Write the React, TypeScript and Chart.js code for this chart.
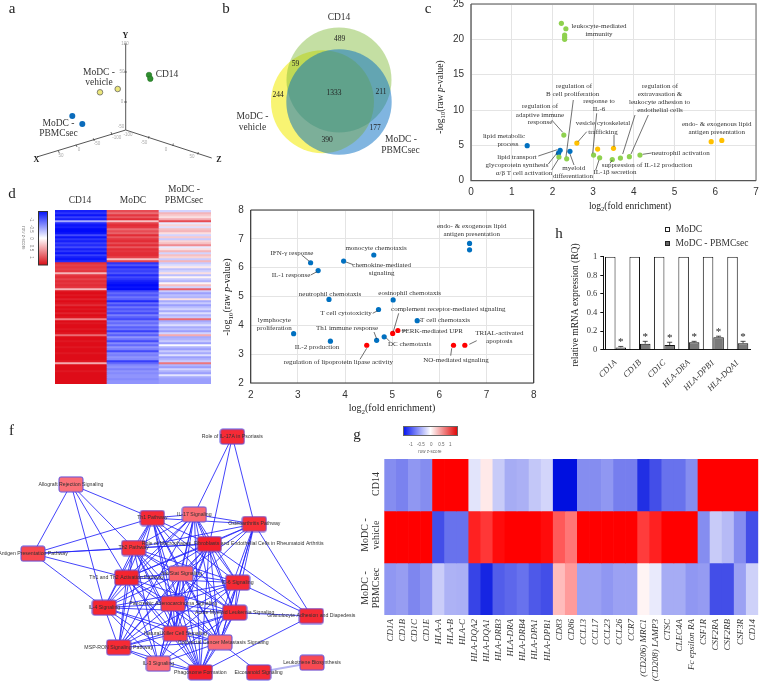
import React, { useEffect, useRef } from "react";
import { Chart, registerables } from "chart.js";

Chart.register(...registerables);

const SERIF = '"Liberation Serif", serif';
const SANS = '"Liberation Sans", sans-serif';

/* ---------- panel a: PCA ---------- */
const pcaVehicle = [{ x: 100, y: 92.3 }, { x: 117.7, y: 89 }];
const pcaSec = [{ x: 72.3, y: 116 }, { x: 82.3, y: 124 }];
const pcaCd14 = [{ x: 149, y: 75 }, { x: 150.3, y: 78.7 }];
const pcaAxisY = [{ x: 125.7, y: 130 }, { x: 125.7, y: 44 }];
const pcaAxisX = [{ x: 125.7, y: 130 }, { x: 36.7, y: 157 }];
const pcaAxisZ = [{ x: 125.7, y: 130 }, { x: 211.7, y: 158 }];

/* ---------- panel b: Venn ---------- */
const vennCircles = [
  { name: "MoDC - vehicle", x: 322.5, y: 101.7, r: 51.5, color: "rgba(245,240,60,0.72)", order: 3 },
  { name: "CD14", x: 339, y: 80, r: 52.5, color: "rgba(125,185,50,0.45)", order: 2 },
  { name: "MoDC - PBMCsec", x: 339, y: 102, r: 52.7, color: "rgba(1,107,193,0.5)", order: 1 },
];

/* ---------- panel c ---------- */
const cGreen = [
  [2.22, 22.26], [2.33, 21.5], [2.3, 20.6], [2.3, 20.3], [2.3, 20.0], [2.28, 6.46], [2.16, 3.35],
  [2.35, 3.1], [3.01, 3.63], [3.16, 3.25], [3.47, 3.0], [3.67, 3.2], [3.89, 3.4], [4.15, 3.63],
];
const cOrange = [[2.6, 5.33], [3.11, 4.48], [3.5, 4.58], [5.9, 5.52], [6.16, 5.7]];
const cBlue = [[1.38, 4.95], [2.19, 4.3], [2.15, 3.9], [2.43, 4.15]];

/* ---------- panel e ---------- */
const eBlue = [
  [6.64, 6.84], [6.64, 6.62], [4.61, 6.44], [3.97, 6.23], [3.27, 6.17], [3.43, 5.9], [3.66, 4.9],
  [5.02, 4.88], [4.71, 4.55], [5.53, 4.16], [2.91, 3.71], [3.69, 3.45], [4.67, 3.48], [4.83, 3.6],
];
const eRed = [[5.01, 3.72], [5.12, 3.82], [4.46, 3.31], [6.3, 3.31], [6.54, 3.31]];

/* ---------- panel h ---------- */
const hGenes = ["CD1A", "CD1B", "CD1C", "HLA-DRA", "HLA-DPB1", "HLA-DQA1"];
const hMoDC = [1, 1, 1, 1, 1, 1];
const hSec = [0.025, 0.065, 0.05, 0.08, 0.135, 0.07];
const hErr = [0.01, 0.025, 0.03, 0.01, 0.01, 0.02];

/* ---------- panel d: heat map (row z-scores) ---------- */
const dCd14 = [
  -1.05, -0.95, -1.1, -0.9, -1.05, -0.4, -1.0, -1.1, -1.05, -1.15, -1.15, -1.1, -0.85, -1.1, -0.95, -1.05, -0.9, -1.0,
  -0.85, -1.05, -0.95, -1.1, -0.9, -1.05, -1.1, -1.0,
  0.98, 0.9, 0.95, 0.9, 0.95, 0.35, 0.95, 1.0, 0.9, 1.0, 0.95, 1.0, 0.95, 0.35, 1.1, 1.15, 1.1, 1.15, 1.05, 1.15, 1.1,
  1.0, 1.15, 1.1, 1.15, 1.05, 1.15, 1.1, 0.6, 1.15, 1.1, 1.15, 1.15, 1.1, 1.15, 1.1, 0.7, 1.15, 1.15, 1.1, 1.15, 1.15,
  1.1, 1.15, 1.15, 1.1, 1.15, 1.15, 1.15, 1.1, 0.4, 1.15, 1.15, 1.15, 1.1, 1.15, 1.15, 1.15, 1.15, 1.15, 1.15,
];
const dMoDC = [
  0.85, 0.7, 0.95, 0.8, 1.0, 0.3, 0.9, 1.0, 0.95, 0.7, 0.85, 0.75, 1.0, 0.8, 0.95, 1.0, 0.85, 1.0, 0.8, 1.0, 0.95,
  1.0, 1.0, 0.9, 0.3, 0.9,
  -0.95, -0.8, -1.0, -0.85, -0.9, -0.8, -1.0, -0.85, -0.95, -1.05, -1.1, -1.15, -1.1, -1.15, -0.85, -0.7, -0.8, -0.65,
  -0.75, -1.0, -0.7, -0.85, -0.65, -0.8, -0.7, -0.85, -0.6, -0.75, -0.85, -0.6, -0.7, -0.55, -0.75, -0.65, -0.9, -0.6,
  -0.75, -0.5, -0.65, -0.85, -0.55, -0.7, -0.5, -0.6, -0.85, -0.55, -0.6, -0.5, -0.55, -0.9, -0.7, -0.55, -0.5, -0.6,
  -0.5, -0.55, -0.5, -0.5, -0.55, -0.5, -0.5,
];
const dSec = [
  -0.2, 0.35, 0.25, 0.15, 0.4, 0.85, -0.1, 0.2, -0.15, 0.3, 0.35, 0.15, -0.2, 0.25, -0.25, 0.2, 0.3, 0.55, -0.1, 0.15,
  0.35, -0.2, 0.3, 0.2, -0.25, 0.35,
  -0.25, -0.15, 0.1, -0.3, -0.2, 0.15, -0.3, 0.05, -0.25, -0.35, 0.05, 0.3, -0.2, 0.75, -0.25, -0.45, -0.3, -0.35, 0.15,
  -0.4, -0.25, -0.45, -0.3, -0.2, -0.4, -0.15, -0.35, -0.25, 0.7, -0.4, -0.3, -0.15, -0.4, -0.3, -0.45, -0.2, 0.4, -0.4,
  -0.35, -0.25, -0.45, -0.02, -0.35, -0.45, -0.25, -0.4, -0.15, -0.45, -0.35, -0.25, 0.65, -0.35, -0.45, -0.2, -0.35,
  -0.45, -0.12, -0.4, -0.45, -0.45, -0.45,
];
const dColumns = ["CD14", "MoDC", "MoDC - PBMCsec"];

/* ---------- panel g: heat map ---------- */
const gGenes = [
  "CD1A", "CD1B", "CD1C", "CD1E", "HLA-A", "HLA-B", "HLA-C", "HLA-DQA2", "HLA-DQA1", "HLA-DRB3", "HLA-DRA", "HLA-DRB4",
  "HLA-DPA1", "HLA-DPB1", "CD83", "CD86", "CCL13", "CCL17", "CCL23", "CCL26", "CCR7", "(CD206) MRC1", "(CD208) LAMP3",
  "CTSC", "CLEC4A", "Fc epsilon RA", "CSF1R", "CSF2RA", "CSF2RB", "CSF3R", "CD14",
];
const gCd14 = [
  -0.55, -0.6, -0.5, -0.55, 1.15, 1.15, 1.15, -0.13, 0.1, -0.25, -0.4, -0.38, -0.27, -0.2, -1.15, -1.15, -0.55, -0.55,
  -0.5, -0.62, -0.62, -1.0, -0.85, -0.68, -0.68, -0.55, 1.15, 1.15, 1.15, 1.15, 1.15,
];
const gVehicle = [
  1.15, 1.15, 1.15, 1.15, -0.85, -0.68, -0.68, 1.0, 0.9, 1.1, 1.15, 1.15, 1.15, 1.1, 0.75, 0.62, 1.15, 1.15, 1.15, 1.15,
  1.15, 0.88, 1.0, 1.15, 1.15, 1.15, -0.55, -0.25, -0.33, -0.55, -0.85,
];
const gSec = [
  -0.5, -0.47, -0.58, -0.52, -0.24, -0.37, -0.38, -0.9, -1.05, -0.78, -0.73, -0.68, -0.8, -0.85, 0.3, 0.45, -0.45, -0.45,
  -0.5, -0.45, -0.45, 0.05, -0.1, -0.4, -0.4, -0.5, -0.48, -0.85, -0.85, -0.45, -0.22,
];

/* ---------- panel f: network ---------- */
const netNames = [
  "Role of IL-17A in Psoriasis", "Allograft Rejection Signaling", "Th1 Pathway", "IL-17 Signaling", "Osteoarthritis Pathway",
  "Antigen Presentation Pathway", "Th2 Pathway", "Role of Macrophages, Fibroblasts and Endothelial Cells in Rheumatoid Arthritis",
  "Th1 and Th2 Activation Pathway", "Jak/Stat Signaling", "IL-6 Signaling", "IL-4 Signaling", "Pancreatic Adenocarcinoma Signaling",
  "Acute Myeloid Leukemia Signaling", "Granulocyte Adhesion and Diapedesis", "Natural Killer Cell Signaling",
  "Colorectal Cancer Metastasis Signaling", "MSP-RON Signaling Pathway", "IL-3 Signaling", "Phagosome Formation",
  "Eicosanoid Signaling", "Leukotriene Biosynthesis",
];
const netX = [697, 213, 457, 583, 763, 99, 401, 628, 380, 543, 713, 313, 519, 704, 934, 526, 660, 356, 475, 601, 776, 936];
const netY = [65, 208, 309, 298, 327, 416, 399, 387, 488, 476, 503, 578, 566, 593, 603, 656, 682, 697, 746, 772, 772, 743];
const netFill = [
  "#f62a36", "#fb7077", "#f62a36", "#fb6a72", "#f83038", "#f8484e", "#f8323c", "#f4202c", "#f5242e", "#fa6068", "#f62a34",
  "#f6262f", "#f83a44", "#f62a34", "#f52a34", "#f83a44", "#fa6a72", "#f62a34", "#fb6a72", "#f4202c", "#f62a34", "#f84a52",
];
const netEdges = [
  [0, 3], [0, 7], [0, 4], [1, 5], [1, 11], [1, 8], [1, 6], [1, 2], [5, 2], [5, 6], [5, 8], [5, 11], [5, 7],
  [2, 3], [2, 4], [2, 6], [2, 7], [2, 8], [2, 9], [2, 10], [2, 11], [2, 12], [2, 13], [2, 15], [2, 16], [2, 17], [2, 19],
  [3, 4], [3, 6], [3, 7], [3, 8], [3, 9], [3, 10], [3, 11], [3, 12], [3, 13], [3, 15], [3, 16], [3, 17], [3, 19],
  [4, 6], [4, 7], [4, 8], [4, 9], [4, 10], [4, 12], [4, 13], [4, 14], [4, 16], [4, 19],
  [6, 7], [6, 8], [6, 9], [6, 10], [6, 11], [6, 12], [6, 13], [6, 15], [6, 16], [6, 17], [6, 18], [6, 19],
  [7, 8], [7, 9], [7, 10], [7, 11], [7, 12], [7, 13], [7, 14], [7, 15], [7, 16], [7, 17], [7, 18], [7, 19],
  [8, 9], [8, 10], [8, 11], [8, 12], [8, 13], [8, 15], [8, 16], [8, 17], [8, 18], [8, 19],
  [9, 10], [9, 11], [9, 12], [9, 13], [9, 15], [9, 16], [9, 17], [9, 18], [9, 19],
  [10, 11], [10, 12], [10, 13], [10, 14], [10, 15], [10, 16], [10, 17], [10, 19],
  [11, 12], [11, 13], [11, 15], [11, 16], [11, 17], [11, 18], [11, 19],
  [12, 13], [12, 15], [12, 16], [12, 17], [12, 18], [12, 19],
  [13, 14], [13, 15], [13, 16], [13, 17], [13, 18], [13, 19],
  [15, 16], [15, 17], [15, 18], [15, 19], [16, 17], [16, 18], [16, 19], [16, 20], [17, 18], [17, 19], [18, 19], [14, 19],
];

/* ---------- annotation tables (page pixels) ---------- */
type Note = [string, number, number];
type Seg = [number, number, number, number];

const aLabels: Note[] = [
  ["MoDC -", 99, 72], ["vehicle", 99, 82], ["CD14", 167, 74.5], ["MoDC -", 58.5, 123], ["PBMCsec", 58.5, 133.5],
];
const aTicks: Note[] = [
  ["100", 125, 44], ["50", 122, 72], ["0", 122, 102], ["-50", 121, 127], ["-100", 116.7, 138], ["-50", 97, 144], ["0", 79, 150],
  ["50", 61, 156], ["-100", 128, 135], ["-50", 144, 143], ["0", 166, 150], ["50", 192, 157],
];
const aTickMarks: Seg[] = [
  [124, 44, 127, 44], [124, 72, 127, 72], [124, 102, 127, 102],
  [111, 132, 112, 135], [93.3, 138.3, 94.3, 141], [76, 144.7, 77, 147], [58.3, 150.7, 59.3, 153],
  [149, 136, 148.5, 138.5], [173.3, 143.5, 172.8, 146], [198.3, 152, 197.8, 154.5],
];
const bLabels: Note[] = [
  ["CD14", 339, 17], ["MoDC -", 252.5, 116], ["vehicle", 252.5, 127.5], ["MoDC -", 401, 139], ["PBMCsec", 400.5, 150.5],
];
const bCounts: Note[] = [
  ["489", 339.5, 39], ["59", 295.5, 64], ["244", 278, 95], ["1333", 334, 93], ["211", 381, 92.5], ["177", 375, 128], ["390", 327, 140],
];
const cLabels: Note[] = [
  ["leukocyte-mediated", 599, 25.7], ["immunity", 599, 34], ["regulation of", 574, 85.7], ["B cell proliferation", 572.7, 94],
  ["response to", 599, 100.7], ["IL-6", 599, 109], ["regulation of", 540, 106], ["adaptive immune", 540, 114.7], ["response", 540, 122],
  ["vesicle cytoskeletal", 603, 123], ["trafficking", 603, 131.7], ["regulation of", 660, 85.7], ["extravasation &", 660, 94],
  ["leukocyte adhesion to", 659.5, 102], ["endothelial cells", 660, 110], ["endo- & exogenous lipid", 716.7, 123.7],
  ["antigen presentation", 716.7, 132], ["lipid metabolic", 504, 136], ["process", 508, 144], ["lipid transport", 517, 156.7],
  ["glycoprotein synthesis", 517, 165], ["α/β T cell activation", 524, 172.7], ["myeloid", 573.7, 167.7], ["differentiation", 573, 175.7],
  ["neutrophil activation", 680.7, 152.7], ["suppression of IL-12 production", 647, 165.3], ["IL-1β secretion", 615, 172],
];
const cLines: Seg[] = [
  [551.7, 120, 562.7, 132.3], [573.3, 100, 566, 156.7], [596.7, 113.3, 592.7, 153.3], [586.7, 131.7, 578, 141.7], [614, 135, 614, 146.7],
  [635, 115, 622.7, 154], [648.3, 115, 631, 154], [538.3, 156, 557.3, 149.7], [548.3, 164, 557.3, 152.7], [551.7, 170, 558.3, 159.3],
  [574, 165, 570, 154], [651.7, 153, 642.7, 154.3], [610, 163.3, 612.3, 160], [595.7, 170, 599, 160],
];
const eLabels: Note[] = [
  ["endo- & exogenous lipid", 471.7, 225.7], ["antigen presentation", 471.7, 233.7], ["monocyte chemotaxis", 376, 248],
  ["IFN-γ response", 292, 252.7], ["chemokine-mediated", 381.7, 264.7], ["signaling", 381.7, 272.7], ["IL-1 response", 291, 275],
  ["neutrophil chemotaxis", 330, 294], ["eosinophil chemotaxis", 409.7, 293.3], ["T cell cytotoxicity", 346, 313.3],
  ["complement receptor-mediated signaling", 448.3, 309.3], ["T cell chemotaxis", 445, 320.3], ["lymphocyte", 274.3, 320],
  ["proliferation", 274.3, 328.3], ["Th1 immune response", 347, 328.3], ["PERK-mediated UPR", 432.3, 331],
  ["TRIAL-activated", 499.3, 332.7], ["apoptosis", 499.3, 341], ["DC chemotaxis", 409.7, 343.7], ["IL-2 production", 317, 347.3],
  ["NO-mediated signaling", 456, 360], ["regulation of lipoprotein lipase activity", 338.3, 362.3],
];
const eLines: Seg[] = [
  [301.7, 255, 309.3, 261.3], [310.7, 275, 317, 271.7], [346, 262, 353.3, 264.7], [372.7, 313.3, 377.7, 310.7], [398.7, 313.3, 393.3, 331.7],
  [374, 332, 376.7, 339], [386, 337.7, 390, 341.7], [401.7, 330.7, 406, 330.7], [469.3, 344.3, 476.7, 340.7], [451.7, 348.3, 450.7, 355.7],
  [366.7, 348.3, 360, 359.3], [419.7, 320.7, 421, 320.7],
];
const netLabelColor = "#333";

/* ---------- helpers ---------- */
const toPoints = (rows: number[][]) => rows.map(([x, y]) => ({ x, y }));

function zColor(z: number, blueEnd: number[], redEnd: number[]) {
  const t = Math.min(Math.abs(z) / 1.15, 1);
  const end = z < 0 ? blueEnd : redEnd;
  const c = end.map((e) => Math.round(255 + (e - 255) * t));
  return `rgb(${c[0]},${c[1]},${c[2]})`;
}
const gBlue = [0, 16, 224];
const gRed = [255, 0, 0];
const dBlue = [0, 10, 250];
const dRed = [222, 12, 24];

type RichSeg = { t: string; sub?: boolean; italic?: boolean };
function drawRich(ctx: CanvasRenderingContext2D, segs: RichSeg[], cx: number, cy: number, rot: number, size: number) {
  const font = (s: RichSeg) => `${s.italic ? "italic " : ""}${s.sub ? size * 0.7 : size}px ${SERIF}`;
  let total = 0;
  segs.forEach((s) => {
    ctx.font = font(s);
    total += ctx.measureText(s.t).width;
  });
  ctx.save();
  ctx.translate(cx, cy);
  ctx.rotate(rot);
  ctx.textAlign = "left";
  ctx.textBaseline = "alphabetic";
  ctx.fillStyle = "#222";
  let x = -total / 2;
  segs.forEach((s) => {
    ctx.font = font(s);
    ctx.fillText(s.t, x, size * 0.32 + (s.sub ? size * 0.25 : 0));
    x += ctx.measureText(s.t).width;
  });
  ctx.restore();
}

function gradient(ctx: CanvasRenderingContext2D, x0: number, y0: number, x1: number, y1: number, stops: string[]) {
  const g = ctx.createLinearGradient(x0, y0, x1, y1);
  stops.forEach((s, i) => g.addColorStop(i / (stops.length - 1), s));
  return g;
}

type OverlayOpts = {
  ox: number;
  oy: number;
  groups?: { notes: Note[]; font: string; color: string }[];
  lines?: Seg[];
  draw?: (ctx: CanvasRenderingContext2D, chart: any) => void;
};
function overlay(o: OverlayOpts) {
  return {
    id: "overlay",
    afterDraw(chart: any) {
      const ctx: CanvasRenderingContext2D = chart.ctx;
      ctx.save();
      ctx.translate(-o.ox, -o.oy);
      ctx.strokeStyle = "#333";
      ctx.lineWidth = 0.7;
      (o.lines || []).forEach(([a, b, c, d]) => {
        ctx.beginPath();
        ctx.moveTo(a, b);
        ctx.lineTo(c, d);
        ctx.stroke();
      });
      ctx.textAlign = "center";
      ctx.textBaseline = "middle";
      (o.groups || []).forEach((g) => {
        ctx.font = g.font;
        ctx.fillStyle = g.color;
        g.notes.forEach(([t, x, y]) => ctx.fillText(t, x, y));
      });
      if (o.draw) o.draw(ctx, chart);
      ctx.restore();
    },
  };
}

const frame = (color: string, width: number, bottomLeft: string) => ({
  id: "frame",
  afterDatasetsDraw(chart: any) {
    const { left, right, top, bottom } = chart.chartArea;
    const ctx = chart.ctx;
    ctx.save();
    ctx.lineWidth = width;
    ctx.strokeStyle = color;
    ctx.beginPath();
    ctx.moveTo(left, top);
    ctx.lineTo(right, top);
    ctx.lineTo(right, bottom);
    ctx.stroke();
    ctx.strokeStyle = bottomLeft;
    ctx.beginPath();
    ctx.moveTo(left, top);
    ctx.lineTo(left, bottom);
    ctx.lineTo(right, bottom);
    ctx.stroke();
    ctx.restore();
  },
});

const base = {
  responsive: false,
  animation: false,
  plugins: { legend: { display: false }, tooltip: { enabled: false } },
  events: [] as string[],
};

const pad = (left: number, top: number, right: number, bottom: number) => ({
  autoPadding: false,
  padding: { left, top, right, bottom },
});

/* Fix an axis box to a set size and drop its label overhang, so the plot area lands exactly. */
const noOverhang = (s: any) => {
  s.paddingLeft = 0;
  s.paddingRight = 0;
  s.paddingTop = 0;
  s.paddingBottom = 0;
};
const fixW = (w: number) => (s: any) => { s.width = w; noOverhang(s); };
const fixH = (h: number) => (s: any) => { s.height = h; noOverhang(s); };

const dots = (data: any[], color: string, r: number, edge = color, edgeW = 0) => ({
  type: "scatter",
  data,
  backgroundColor: color,
  borderColor: edge,
  borderWidth: edgeW,
  pointRadius: r,
  clip: false,
});
const axisLine = (data: any[]) => ({
  type: "scatter",
  data,
  showLine: true,
  borderColor: "#555",
  borderWidth: 1,
  pointRadius: 0,
  order: 5,
});
const pixelScales = (w: number, h: number, ox = 0, oy = 0) => ({
  x: { type: "linear", display: false, min: ox, max: ox + w },
  y: { type: "linear", display: false, min: oy, max: oy + h, reverse: true },
});

const enrichmentScales = (xMin: number, xMax: number, yMin: number, yMax: number, yStep: number, lw: number, bh: number, tickPad: number) => ({
  x: {
    type: "linear", min: xMin, max: xMax, afterFit: fixH(bh),
    grid: { color: "#e4e4e4", lineWidth: 1, tickLength: 0 },
    border: { display: false },
    ticks: { stepSize: 1, padding: tickPad, color: "#333", font: { family: SANS, size: 10 }, maxRotation: 0 },
  },
  y: {
    type: "linear", min: yMin, max: yMax, afterFit: fixW(lw),
    grid: { color: "#e4e4e4", lineWidth: 1, tickLength: 0 },
    border: { display: false },
    ticks: { stepSize: yStep, padding: 7, color: "#333", font: { family: SANS, size: 10 } },
  },
});

const logFold: RichSeg[] = [{ t: "log" }, { t: "2", sub: true }, { t: "(fold enrichment)" }];
const logP: RichSeg[] = [{ t: "-log" }, { t: "10", sub: true }, { t: "(raw " }, { t: "p", italic: true }, { t: "-value)" }];
const letterFont = `15px ${SERIF}`;
const noteFont = `7px ${SERIF}`;

function buildCharts(canvases: Record<string, HTMLCanvasElement>) {
  const charts: Chart[] = [];
  const make = (k: string, cfg: any) => charts.push(new Chart(canvases[k], cfg));

  /* a */
  make("a", {
    data: {
      datasets: [
        axisLine(pcaAxisY), axisLine(pcaAxisX), axisLine(pcaAxisZ),
        dots(pcaVehicle, "#ece77c", 2.8, "#555", 0.7),
        dots(pcaSec, "#0a6bbb", 3),
        dots(pcaCd14, "#2f8f2f", 2.8, "#1c6a1c", 0.5),
      ],
    },
    options: { ...base, layout: pad(0, 0, 0, 0), scales: pixelScales(225, 195) },
    plugins: [
      overlay({
        ox: 0, oy: 0,
        lines: aTickMarks,
        groups: [
          { notes: aLabels, font: `9.5px ${SERIF}`, color: "#333" },
          { notes: aTicks, font: `4.5px ${SANS}`, color: "#aaa" },
          { notes: [["Y", 125.5, 36], ["X", 36.5, 160], ["Z", 219, 159.5]], font: `bold 8px ${SERIF}`, color: "#222" },
          { notes: [["a", 12, 9]], font: letterFont, color: "#222" },
        ],
      }),
    ],
  });

  /* b */
  make("b", {
    data: {
      datasets: vennCircles.map((c) => ({
        type: "bubble",
        label: c.name,
        data: [{ x: c.x, y: c.y, r: c.r }],
        backgroundColor: c.color,
        borderWidth: 0,
        order: c.order,
        clip: false,
      })),
    },
    options: { ...base, layout: pad(0, 0, 0, 0), scales: pixelScales(200, 190, 222, 0) },
    plugins: [
      overlay({
        ox: 222, oy: 0,
        groups: [
          { notes: bLabels, font: `9.5px ${SERIF}`, color: "#333" },
          { notes: bCounts, font: `7.5px ${SERIF}`, color: "#222" },
          { notes: [["b", 226, 9]], font: letterFont, color: "#222" },
        ],
      }),
    ],
  });

  /* c */
  make("c", {
    data: {
      datasets: [
        dots(toPoints(cGreen), "#8fd14f", 2.6),
        dots(toPoints(cOrange), "#ffc000", 2.6),
        dots(toPoints(cBlue), "#0070c0", 2.6),
      ],
    },
    options: {
      ...base,
      layout: pad(0, 4, 3, 0),
      scales: enrichmentScales(0, 7, 0, 25, 5, 51, 34.3, 6),
    },
    plugins: [
      frame("#888", 1.3, "#555"),
      overlay({
        ox: 420, oy: 0,
        lines: cLines,
        groups: [
          { notes: cLabels, font: noteFont, color: "#333" },
          { notes: [["c", 428, 9]], font: letterFont, color: "#222" },
        ],
        draw(ctx) {
          drawRich(ctx, logFold, 630, 205.5, 0, 9.5);
          drawRich(ctx, logP, 440, 97, -Math.PI / 2, 9.5);
        },
      }),
    ],
  });

  /* d */
  make("d", {
    data: {
      labels: dColumns,
      datasets: dCd14.map((_, i) => ({
        type: "bar",
        data: [1, 1, 1],
        backgroundColor: [dCd14[i], dMoDC[i], dSec[i]].map((z) => zColor(z, dBlue, dRed)),
        borderWidth: 0,
        barPercentage: 1,
        categoryPercentage: 1,
      })),
    },
    options: {
      ...base,
      layout: pad(55, 30, 14, 11),
      scales: {
        x: { display: false, stacked: true },
        y: { display: false, stacked: true, min: 0, max: dCd14.length, reverse: true },
      },
    },
    plugins: [
      overlay({
        ox: 0, oy: 180,
        groups: [
          { notes: [["CD14", 80, 200.5], ["MoDC", 133, 200.5], ["MoDC -", 184, 189], ["PBMCsec", 184, 200.5]], font: `9.5px ${SERIF}`, color: "#333" },
          { notes: [["d", 12, 194]], font: letterFont, color: "#222" },
        ],
        draw(ctx) {
          ctx.fillStyle = gradient(ctx, 0, 211, 0, 265.3, ["#0010f8", "#ffffff", "#d80c14"]);
          ctx.fillRect(38.5, 211.5, 9, 53.5);
          ctx.strokeStyle = "#333";
          ctx.lineWidth = 1;
          ctx.strokeRect(38.5, 211.5, 9, 53.5);
          ctx.font = `4.5px ${SANS}`;
          ctx.fillStyle = "#777";
          [["-1", 219.5], ["-0.5", 229], ["0", 238.5], ["0.5", 248], ["1", 257.5]].forEach(([t, y]) => {
            ctx.save();
            ctx.translate(31, y as number);
            ctx.rotate(Math.PI / 2);
            ctx.fillText(t as string, 0, 0);
            ctx.restore();
          });
          ctx.save();
          ctx.translate(23, 238);
          ctx.rotate(Math.PI / 2);
          ctx.fillText("row z-score", 0, 0);
          ctx.restore();
        },
      }),
    ],
  });

  /* e */
  make("e", {
    data: {
      datasets: [dots(toPoints(eBlue), "#0070c0", 2.6), dots(toPoints(eRed), "#ff0000", 2.6)],
    },
    options: {
      ...base,
      layout: pad(0, 10, 6.3, 0),
      scales: enrichmentScales(2, 8, 2, 8, 1, 30.7, 37, 6),
    },
    plugins: [
      frame("#333", 1.2, "#333"),
      overlay({
        ox: 220, oy: 200,
        lines: eLines,
        groups: [
          { notes: eLabels, font: noteFont, color: "#333" },
          { notes: [["e", 226, 195]], font: letterFont, color: "#222" },
        ],
        draw(ctx) {
          drawRich(ctx, logFold, 392, 408, 0, 10);
          drawRich(ctx, logP, 227, 297, -Math.PI / 2, 10);
        },
      }),
    ],
  });

  /* h */
  make("h", {
    data: {
      labels: hGenes,
      datasets: [
        { type: "bar", label: "MoDC", data: hMoDC, backgroundColor: "#ffffff", borderColor: "#111", borderWidth: 1, barPercentage: 1, categoryPercentage: 0.86 },
        { type: "bar", label: "MoDC - PBMCsec", data: hSec, backgroundColor: "#7a7a7a", borderColor: "#111", borderWidth: 1, barPercentage: 1, categoryPercentage: 0.86 },
      ],
    },
    options: {
      ...base,
      layout: pad(0, 41.7, 9, 0),
      scales: {
        x: {
          afterFit: fixH(65.3),
          grid: { display: false },
          border: { color: "#111", width: 1 },
          ticks: { minRotation: 45, maxRotation: 45, padding: 0, color: "#333", autoSkip: false, font: { family: SERIF, size: 8.5, style: "italic" } },
        },
        y: {
          min: 0, max: 1, afterFit: fixW(63.3),
          grid: { drawOnChartArea: false, tickLength: 3, color: "#111" },
          border: { color: "#111", width: 1 },
          ticks: { stepSize: 0.2, padding: 3, color: "#333", font: { family: SERIF, size: 8.5 }, callback: (v: number) => String(Math.round(v * 10) / 10) },
        },
      },
    },
    plugins: [
      {
        id: "errorBars",
        afterDatasetsDraw(chart: any) {
          const ctx = chart.ctx;
          const y = chart.scales.y;
          const meta = chart.getDatasetMeta(1);
          ctx.save();
          ctx.strokeStyle = "#222";
          ctx.fillStyle = "#222";
          ctx.lineWidth = 0.8;
          ctx.textAlign = "center";
          ctx.textBaseline = "middle";
          ctx.font = `11px ${SERIF}`;
          meta.data.forEach((bar: any, i: number) => {
            const top = y.getPixelForValue(hSec[i] + hErr[i]);
            ctx.beginPath();
            ctx.moveTo(bar.x, y.getPixelForValue(hSec[i]));
            ctx.lineTo(bar.x, top);
            ctx.moveTo(bar.x - 2.5, top);
            ctx.lineTo(bar.x + 2.5, top);
            ctx.stroke();
            ctx.fillText("*", bar.x, top - 4);
          });
          ctx.restore();
        },
      },
      overlay({
        ox: 540, oy: 215,
        groups: [
          { notes: [["MoDC", 689, 229], ["MoDC - PBMCsec", 712, 243]], font: `9.5px ${SERIF}`, color: "#333" },
          { notes: [["h", 559, 234]], font: letterFont, color: "#222" },
        ],
        draw(ctx) {
          ctx.strokeStyle = "#222";
          ctx.lineWidth = 1;
          ctx.fillStyle = "#fff";
          ctx.fillRect(665.5, 227.5, 4, 4);
          ctx.strokeRect(665.5, 227.5, 4, 4);
          ctx.fillStyle = "#666";
          ctx.fillRect(665.5, 241.5, 4, 4);
          ctx.strokeRect(665.5, 241.5, 4, 4);
          drawRich(ctx, [{ t: "relative mRNA expression (RQ)" }], 575, 305, -Math.PI / 2, 9.5);
        },
      }),
    ],
  });

  /* f */
  const nodeImage = (fill: string) => {
    const c = document.createElement("canvas");
    c.width = 26;
    c.height = 17;
    const x = c.getContext("2d")!;
    x.fillStyle = fill;
    x.strokeStyle = "#5a50e4";
    x.lineWidth = 1;
    x.beginPath();
    (x as any).roundRect(1, 1, 24, 15, 2);
    x.fill();
    x.stroke();
    return c;
  };
  const nodePoints = netX.map((x, i) => ({ x, y: netY[i] }));
  const fNotes: Note[] = netNames.map((n, i) => {
    const shift: Record<number, [number, number]> = { 7: [70, 0], 16: [10, 0] };
    const s = shift[i] || [0, 0];
    return [n, (netX[i] + s[0]) / 3, 415 + (netY[i] + s[1]) / 3];
  });
  make("f", {
    data: {
      datasets: [
        ...netEdges.map(([a, b]) => ({
          type: "scatter",
          data: [nodePoints[a], nodePoints[b]],
          showLine: true,
          borderColor: "rgba(35,35,250,0.85)",
          borderWidth: 1,
          pointRadius: 0,
          order: 2,
        })),
        {
          type: "scatter",
          data: [nodePoints[20], nodePoints[21]],
          showLine: true,
          borderColor: "#b4b4f2",
          borderWidth: 2,
          pointRadius: 0,
          order: 2,
        },
        {
          type: "scatter",
          data: nodePoints,
          pointRadius: 12,
          pointStyle: netFill.map(nodeImage),
          order: 1,
          clip: false,
        },
      ],
    },
    options: { ...base, layout: pad(0, 0, 0, 0), scales: { x: { type: "linear", display: false, min: 0, max: 1080 }, y: { type: "linear", display: false, min: 0, max: 855, reverse: true } } },
    plugins: [
      overlay({
        ox: 0, oy: 415,
        groups: [
          { notes: fNotes, font: `5.2px ${SANS}`, color: netLabelColor },
          { notes: [["f", 11.5, 431]], font: letterFont, color: "#222" },
        ],
      }),
    ],
  });

  /* g */
  make("g", {
    data: {
      labels: gGenes,
      datasets: [gCd14, gVehicle, gSec].map((row) => ({
        type: "bar",
        data: row.map(() => 1),
        backgroundColor: row.map((z) => zColor(z, gBlue, gRed)),
        borderWidth: 0,
        barPercentage: 1,
        categoryPercentage: 1,
      })),
    },
    options: {
      ...base,
      layout: pad(44.3, 39, 0.7, 0),
      scales: {
        x: {
          stacked: true,
          afterFit: fixH(85),
          grid: { display: false, drawTicks: false },
          border: { display: false },
          ticks: { minRotation: 90, maxRotation: 90, padding: 4, autoSkip: false, color: "#333", font: { family: SERIF, size: 9, style: "italic" } },
        },
        y: { display: false, stacked: true, min: 0, max: 3, reverse: true },
      },
    },
    plugins: [
      overlay({
        ox: 340, oy: 420,
        groups: [
          { notes: [["g", 357, 435]], font: letterFont, color: "#222" },
          { notes: [["-1", 410.7, 444.7], ["-0.5", 421, 444.7], ["0", 431.3, 444.7], ["0.5", 441.3, 444.7], ["1", 450.3, 444.7], ["row z-score", 430, 451.3]], font: `4.5px ${SANS}`, color: "#666" },
        ],
        draw(ctx) {
          ctx.fillStyle = gradient(ctx, 403, 0, 458, 0, ["#0010f0", "#ffffff", "#e00000"]);
          ctx.fillRect(403.5, 426.5, 54, 9);
          ctx.strokeStyle = "#666";
          ctx.lineWidth = 1;
          ctx.strokeRect(403.5, 426.5, 54, 9);
          const rotated: [string, number, number][] = [
            ["CD14", 376, 484], ["MoDC -", 365, 535], ["vehicle", 376, 535], ["MoDC -", 365, 588], ["PBMCsec", 376, 588],
          ];
          ctx.font = `10px ${SERIF}`;
          ctx.fillStyle = "#333";
          ctx.textAlign = "center";
          ctx.textBaseline = "middle";
          rotated.forEach(([t, x, y]) => {
            ctx.save();
            ctx.translate(x, y);
            ctx.rotate(-Math.PI / 2);
            ctx.fillText(t, 0, 0);
            ctx.restore();
          });
        },
      }),
    ],
  });

  return charts;
}

const panels: Record<string, [number, number, number, number]> = {
  a: [0, 0, 225, 195],
  b: [222, 0, 200, 190],
  c: [420, 0, 339, 215],
  d: [0, 180, 225, 215],
  e: [220, 200, 320, 220],
  h: [540, 215, 219, 200],
  f: [0, 415, 360, 285],
  g: [340, 420, 419, 280],
};

export default function App() {
  const refs = useRef<Record<string, HTMLCanvasElement>>({});
  useEffect(() => {
    const charts = buildCharts(refs.current);
    return () => charts.forEach((c) => c.destroy());
  }, []);
  return (
    <div style={{ position: "absolute", left: 0, top: 0, width: 759, height: 700, overflow: "hidden", background: "#fff" }}>
      {Object.entries(panels).map(([k, [x, y, w, h]]) => (
        <canvas
          key={k}
          ref={(el) => {
            if (el) refs.current[k] = el;
          }}
          width={w}
          height={h}
          style={{ position: "absolute", left: x, top: y, width: w, height: h }}
        />
      ))}
    </div>
  );
}
